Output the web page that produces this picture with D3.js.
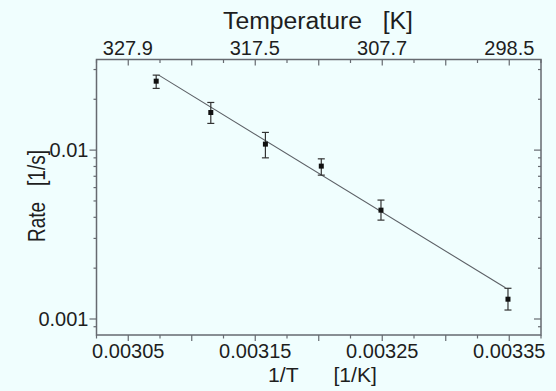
<!DOCTYPE html>
<html>
<head>
<meta charset="utf-8">
<script src="https://cdn.jsdelivr.net/npm/d3@7"></script>
<style>
  html, body { margin: 0; padding: 0; background: #f0fefe; }
  svg { display: block; font-family: "Liberation Sans", Arial, sans-serif; }
  text { white-space: pre; }
</style>
</head>
<body>
<svg id="chart"></svg>
<script>
// measured points (1/T in 1/K, rate in 1/s)
const invT = [0.003072, 0.003115, 0.003158, 0.003202, 0.003249, 0.003349];
const rate = [0.0256, 0.0167, 0.01085, 0.00804, 0.00441, 0.00131];
const rateHi = [0.0278, 0.01915, 0.01273, 0.00888, 0.00506, 0.00152];
const rateLo = [0.0232, 0.01439, 0.0090, 0.00711, 0.00385, 0.00113];
// fitted line end points
const fitX = [0.003074, 0.003347];
const fitY = [0.0278, 0.00153];
// axis labels
const xTickLabels = [0.00305, 0.00315, 0.00325, 0.00335];
const tempLabels = ["327.9", "317.5", "307.7", "298.5"];
const yTickLabels = [0.001, 0.01];

const W = 556, H = 391;
const mLeft = 96.5, mRight = 541, mTop = 59.5, mBottom = 335;
const axisColor = "#666a70";
const textColor = "#1e1e1e";

const svg = d3.select("#chart").attr("width", W).attr("height", H);

const x = d3.scaleLinear().domain([0.003025, 0.003375]).range([mLeft, mRight]);
const y = d3.scaleLog().domain([0.000804, 0.0344]).range([mBottom, mTop]);

// tick value lists
const xMinor = d3.range(0, 15).map(i => 0.003025 + i * 0.000025);
const yMinor = [];
[0.0001, 0.001, 0.01].forEach(d => { for (let k = 1; k <= 9; k++) yMinor.push(d * k); });
const yMinorIn = yMinor.filter(v => v >= 0.000804 && v <= 0.0344);

function isMajorX(v) { return Math.abs(Math.round(v / 0.00005) * 0.00005 - v) < 1e-9; }
function isDecade(v) { return Math.abs(Math.log10(v) - Math.round(Math.log10(v))) < 1e-6; }

// frame ticks: bottom and top (both pointing down), left and right (both pointing left)
const g = svg.append("g");
[mBottom, mTop].forEach(yy => {
  g.selectAll(null).data(xMinor).enter().append("line")
    .attr("x1", d => x(d)).attr("x2", d => x(d))
    .attr("y1", yy).attr("y2", d => yy + (isMajorX(d) ? 6 : 3.5))
    .attr("stroke", axisColor).attr("stroke-width", 1.2);
});
[mLeft, mRight].forEach(xx => {
  g.selectAll(null).data(yMinorIn).enter().append("line")
    .attr("y1", d => y(d)).attr("y2", d => y(d))
    .attr("x1", xx).attr("x2", d => xx - (isDecade(d) ? 7 : 3))
    .attr("stroke", axisColor).attr("stroke-width", 1.2);
});

// frame
g.append("rect")
  .attr("x", mLeft).attr("y", mTop)
  .attr("width", mRight - mLeft).attr("height", mBottom - mTop)
  .attr("fill", "none").attr("stroke", axisColor).attr("stroke-width", 1.5);

// tick labels
svg.selectAll(".xl").data(xTickLabels).enter().append("text")
  .attr("x", d => x(d)).attr("y", 357.5)
  .attr("text-anchor", "middle").attr("font-size", 20).attr("fill", textColor)
  .text(d => d.toFixed(5));

svg.selectAll(".tl").data(tempLabels).enter().append("text")
  .attr("x", d => x(1 / +d)).attr("y", 54.5)
  .attr("text-anchor", "middle").attr("font-size", 20).attr("fill", textColor)
  .text(d => d);

svg.selectAll(".yl").data(yTickLabels).enter().append("text")
  .attr("x", 88.5).attr("y", d => y(d) + 7)
  .attr("text-anchor", "end").attr("font-size", 20).attr("fill", textColor)
  .text(d => String(d));

// axis titles
svg.append("text").attr("x", 318).attr("y", 29)
  .attr("text-anchor", "middle").attr("font-size", 23).attr("fill", textColor)
  .attr("textLength", 190).attr("lengthAdjust", "spacingAndGlyphs")
  .text("Temperature   [K]");
svg.append("text").attr("x", 322.5).attr("y", 382)
  .attr("text-anchor", "middle").attr("font-size", 20).attr("fill", textColor)
  .attr("textLength", 109).attr("lengthAdjust", "spacingAndGlyphs")
  .text("1/T      [1/K]");
svg.append("text")
  .attr("transform", "translate(45,196) rotate(-90)")
  .attr("text-anchor", "middle").attr("font-size", 23).attr("fill", textColor)
  .attr("textLength", 92).attr("lengthAdjust", "spacingAndGlyphs")
  .text("Rate   [1/s]");

// fit line
const line = d3.line().x(d => x(d[0])).y(d => y(d[1]));
svg.append("path")
  .attr("d", line(fitX.map((v, i) => [v, fitY[i]])))
  .attr("fill", "none").attr("stroke", "#5c6066").attr("stroke-width", 1.1);

// error bars
const pts = invT.map((v, i) => ({ x: v, r: rate[i], hi: rateHi[i], lo: rateLo[i] }));
const eb = svg.append("g").attr("stroke", "#333").attr("stroke-width", 1.2);
eb.selectAll(".v").data(pts).enter().append("line")
  .attr("x1", d => x(d.x)).attr("x2", d => x(d.x))
  .attr("y1", d => y(d.hi)).attr("y2", d => y(d.lo));
["hi", "lo"].forEach(k => {
  eb.selectAll(null).data(pts).enter().append("line")
    .attr("x1", d => x(d.x) - 3.5).attr("x2", d => x(d.x) + 3.5)
    .attr("y1", d => y(d[k])).attr("y2", d => y(d[k]));
});

// markers
svg.selectAll(".pt").data(pts).enter().append("rect")
  .attr("x", d => x(d.x) - 2.5).attr("y", d => y(d.r) - 2.5)
  .attr("width", 5).attr("height", 5)
  .attr("fill", "#111");
</script>
</body>
</html>
